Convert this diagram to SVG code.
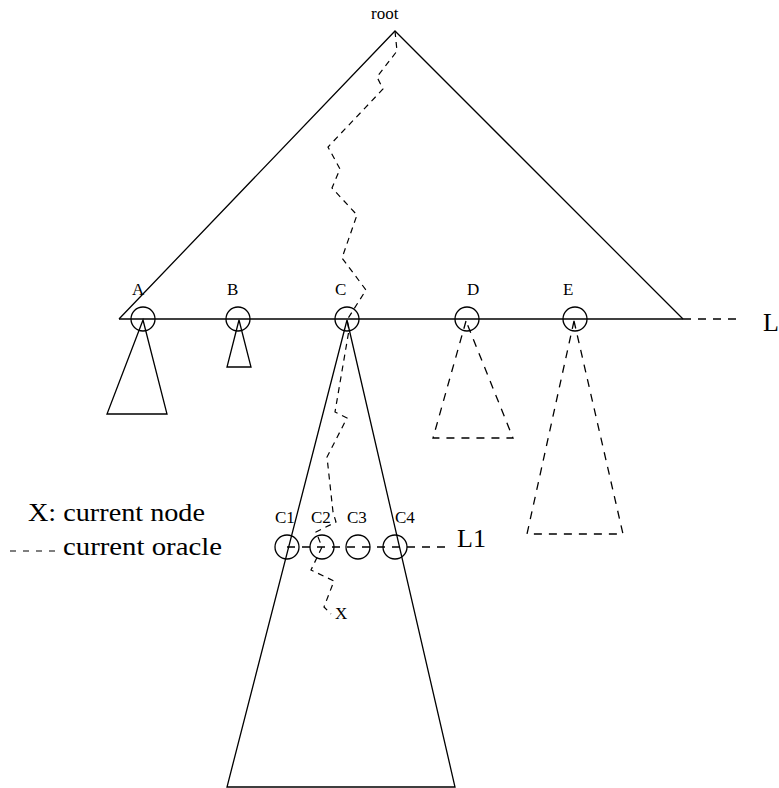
<svg xmlns="http://www.w3.org/2000/svg" width="779" height="788" viewBox="0 0 779 788">
<style>
.s{fill:none;stroke:#000;stroke-width:1.3}
.d{fill:none;stroke:#000;stroke-width:1.3;stroke-dasharray:8,7}
.o{fill:none;stroke:#000;stroke-width:1.2;stroke-dasharray:6,5}
.c{fill:none;stroke:#000;stroke-width:1.3}
.t{font-family:"Liberation Serif","DejaVu Serif",serif;fill:#000}
.sm{font-size:17px}
.lg{font-size:26px}
</style>
<rect width="779" height="788" fill="#fff"/>
<g id="connectors">
<polyline id="tree" class="s" points="119,319 395,31 683,319"/>
<line id="levelL" class="s" x1="119" y1="319" x2="683" y2="319"/>
<line id="levelL-dash" class="d" x1="683" y1="319" x2="737" y2="319"/>
<line id="levelL1" class="d" x1="287" y1="547" x2="452" y2="547"/>
<polyline id="oracle" class="o" points="395,31 397,51 377,77 383,89 328,147 340,169 332,188 357,215 342,258 366,290 347,320 349,330 335,412 347,418 327,457 333,512 336,522 316,532 322,547 311,570 334,581 324,607 331,614"/>
</g>
<g font-family="Liberation Serif, DejaVu Serif, serif">
<g id="root"><text class="t sm" x="371" y="19">root</text></g>
<g id="A"><circle class="c" cx="143" cy="319" r="12"/><text class="t sm" x="132" y="295">A</text><polygon class="s" points="143,320 107,414 167,414"/></g>
<g id="B"><circle class="c" cx="238" cy="319" r="12"/><text class="t sm" x="227" y="295">B</text><polygon class="s" points="239,320 227,367 251,367"/></g>
<g id="C"><circle class="c" cx="347" cy="319" r="12"/><text class="t sm" x="335" y="295">C</text><polygon class="s" points="347,320 227,787 455,787"/></g>
<g id="D"><circle class="c" cx="467" cy="319" r="12"/><text class="t sm" x="467" y="295">D</text><polygon class="d" points="466,321 433,438 513,438"/></g>
<g id="E"><circle class="c" cx="575" cy="319" r="12"/><text class="t sm" x="563" y="295">E</text><polygon class="d" points="574,321 527,534 623,534"/></g>
<g id="C1"><circle class="c" cx="287" cy="547" r="12"/><text class="t sm" x="275" y="523">C1</text></g>
<g id="C2"><circle class="c" cx="322" cy="547" r="12"/><text class="t sm" x="311" y="523">C2</text></g>
<g id="C3"><circle class="c" cx="358" cy="547" r="12"/><text class="t sm" x="347" y="523">C3</text></g>
<g id="C4"><circle class="c" cx="395" cy="547" r="12"/><text class="t sm" x="395" y="523">C4</text></g>
<g id="X"><text class="t sm" x="335" y="619">X</text></g>
<g id="L"><text class="t lg" x="763" y="331">L</text></g>
<g id="L1"><text class="t lg" x="457" y="547">L1</text></g>
<g id="legend">
<text class="t lg" x="28" y="521" textLength="177" lengthAdjust="spacingAndGlyphs">X: current node</text>
<line x1="10" y1="551" x2="56" y2="551" stroke="#000" stroke-width="1.2" stroke-dasharray="6,7"/>
<text class="t lg" x="63" y="555" textLength="159" lengthAdjust="spacingAndGlyphs">current oracle</text>
</g>
</g>
</svg>
